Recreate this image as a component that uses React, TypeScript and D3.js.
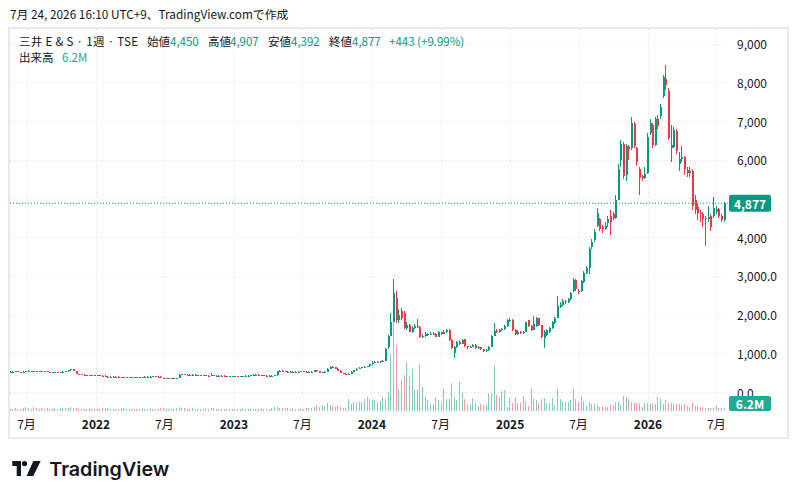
import React from "react";
import * as d3 from "d3";

// weekly bars, 2021-05-17 .. 2026-07-20 (one row per year)
const opens = [
  515,520,525,530,520,505,520,530,545,540,530,525,535,540,530,515,505,510,510,505,515,520,530,560,590,540,470,455,450,440,435,440,430,
  425,430,425,420,400,380,395,400,395,390,385,370,380,385,380,385,380,385,390,395,400,400,405,400,395,365,355,355,355,350,355,360,450,455,450,445,440,445,435,440,440,430,425,420,430,425,425,420,420,415,410,410,
  410,410,400,410,412,415,420,440,445,445,440,430,415,410,415,420,430,530,545,540,520,525,520,525,520,525,530,525,520,525,520,560,540,500,505,520,600,655,640,600,545,490,470,465,470,520,560,600,620,640,650,660,
  720,760,780,770,790,810,1150,1450,1820,2420,1860,2100,2050,1650,1730,1560,1650,1700,1680,1420,1450,1500,1480,1510,1490,1430,1540,1500,1560,1600,1340,1000,1150,1300,1250,1360,1180,1150,1170,1210,1140,1150,1100,1060,1080,1160,1450,1580,1550,1600,1620,1700,1850,
  1860,1600,1500,1560,1520,1550,1850,1700,1600,1700,1900,1720,1400,1470,1550,1650,1770,1920,2200,2260,2350,2330,2400,2600,2900,2620,2600,2840,3080,3200,3740,3920,4280,4470,4250,4200,4360,4550,4600,4500,4970,6000,6400,5600,6320,6300,6930,6300,5770,5570,5530,5660,
  6700,6900,6370,7060,7120,7650,8080,7780,6300,6330,6740,5890,6020,6060,5740,5660,5700,4960,4790,4620,4600,4500,4480,4550,4550,4650,4730,4550,4450,
];
const highs = [
  530,535,545,535,525,530,540,560,555,545,540,545,555,545,535,520,520,520,515,525,530,540,570,605,595,545,475,465,460,450,450,445,440,
  442,440,435,430,410,405,410,410,405,400,395,390,395,395,395,395,395,400,405,410,412,415,415,410,405,370,365,365,365,365,370,465,468,465,460,455,455,455,450,452,450,440,435,490,440,437,435,430,430,425,420,420,
  422,422,422,424,427,432,452,457,457,457,452,442,427,427,432,442,545,560,557,552,537,537,537,537,537,542,542,537,537,537,575,572,552,517,532,615,670,665,652,612,557,502,482,482,532,575,615,635,655,665,675,735,
  790,800,795,810,830,1130,1480,2050,2912,2600,2150,2170,2080,1800,1760,1700,1750,1890,1700,1500,1540,1530,1560,1540,1520,1570,1560,1600,1640,1620,1360,1180,1320,1340,1380,1380,1200,1200,1240,1230,1180,1170,1120,1110,1190,1480,1775,1620,1640,1660,1740,1880,1900,
  1880,1620,1590,1580,1580,1820,1860,1720,1960,1930,1920,1740,1600,1630,1680,1830,1950,2480,2320,2400,2380,2440,2580,2950,2920,2660,2900,3120,3260,3750,3950,4200,4750,4500,4320,4380,4550,4700,4650,5100,5900,6500,6450,6400,6380,7110,6980,6320,5800,5600,5800,6700,
  7050,6950,7100,7150,7450,8180,8450,7850,6900,6850,6800,6200,6350,6100,5800,5800,5750,5100,4850,4700,4650,4550,4800,4600,5050,4800,4750,4600,4907,
];
const lows = [
  505,510,515,510,495,500,515,525,530,520,515,520,530,520,505,495,500,500,495,500,510,515,525,555,530,460,445,440,435,425,430,420,415,
  413,413,408,388,368,370,385,385,380,375,358,360,370,370,370,370,370,375,380,385,390,390,390,385,355,345,345,345,340,340,345,355,440,440,435,430,430,425,425,430,420,415,410,410,415,415,410,410,405,400,400,400,
  398,388,388,398,400,403,408,428,433,428,418,403,398,398,403,408,418,518,528,508,508,508,508,508,508,513,513,508,508,508,508,528,488,488,493,508,588,628,588,533,478,458,453,453,458,508,548,588,608,628,638,648,
  710,750,755,760,780,800,1120,1440,1800,1780,1780,1850,1620,1600,1540,1530,1620,1650,1390,1400,1430,1450,1460,1460,1410,1420,1470,1490,1530,1320,1120,870,1130,1220,1230,1160,1120,1130,1150,1120,1120,1080,1040,1040,1060,1150,1440,1520,1530,1580,1600,1690,1820,
  1580,1480,1480,1500,1500,1540,1680,1580,1590,1690,1700,1400,1140,1450,1530,1640,1750,1900,2170,2220,2280,2300,2380,2580,2620,2540,2580,2820,3060,3060,3700,3880,4250,4150,4100,4180,4250,4050,4450,4480,4950,5800,5500,5450,6000,6250,6300,5850,5090,5450,5500,5620,
  6650,6300,6350,6800,7050,7600,7800,6500,5950,6300,6150,5700,5950,5600,5550,5550,4700,4600,4450,4400,4250,3780,4400,4150,4500,4600,4500,4380,4392,
];
const closes = [
  520,525,530,520,505,520,530,545,540,530,525,535,540,530,515,505,510,510,505,515,520,530,560,590,540,470,455,450,440,435,440,430,425,
  430,425,420,400,380,395,400,395,390,385,370,380,385,380,385,380,385,390,395,400,400,405,400,395,365,355,355,355,350,355,360,450,455,450,445,440,445,435,440,440,430,425,420,430,425,425,420,420,415,410,410,410,
  410,400,410,412,415,420,440,445,445,440,430,415,410,415,420,430,530,545,540,520,525,520,525,520,525,530,525,520,525,520,560,540,500,505,520,600,655,640,600,545,490,470,465,470,520,560,600,620,640,650,660,720,
  760,780,770,790,810,1100,1450,1800,2550,1860,2000,1900,1650,1720,1560,1650,1700,1680,1420,1450,1500,1480,1510,1490,1430,1540,1500,1560,1600,1340,1140,1150,1300,1250,1350,1180,1150,1170,1210,1140,1150,1100,1060,1080,1160,1450,1580,1550,1600,1620,1700,1850,1860,
  1600,1500,1560,1520,1550,1800,1700,1600,1750,1900,1720,1430,1560,1600,1650,1800,1920,2220,2260,2350,2320,2400,2550,2900,2650,2580,2860,3080,3200,3700,3880,4140,4620,4210,4200,4300,4480,4380,4500,4950,5750,6400,5580,6360,6280,6950,6350,5940,5530,5530,5620,6600,
  6960,6370,7060,6880,7370,8140,7930,6570,6380,6780,6230,6020,6080,5770,5660,5700,4800,4700,4620,4600,4470,4480,4520,4250,4760,4730,4550,4434,4877,
];
// millions of shares
const volumes = [
  4.5,4,5,4,4.5,5,7,5,4.5,7,5,4.5,5,4,5,4.5,4,5,4.5,5,6,5.5,6,7.5,6.5,5,4.5,4,4.5,4,5,4.5,4,
  4,4.5,5,5.5,6,4.5,4,4.5,4,5,5.5,4,4.5,4,4,4.5,4,5,4,4.5,5,4,4.5,4,5.5,5,4,4.5,4,4,5,7.5,6,5,4.5,4,5,4,4.5,4,4,5,4.5,6,5,4.5,4,4,4.5,4,3.5,4,
  4,4.5,4,5,4.5,4,5,4.5,4,4,5,4.5,4,4,5,7.5,8,6,5,6,5,4.5,5,4,4.5,5,4.5,5,6,5.5,8.5,11,7.5,11,9.5,15,11.5,9.5,7.5,9.5,7.5,6,6.5,23,13,17,17,19,17,23,26,23,
  21,19,17,19,27,23,36,108,169,125,42,59,68,93,67,80,40,40,89,46,27,21,13,13,27,21,15,42,23,23,53,27,21,55,34,23,13,13,24,15,9.5,13,11,11,34,34,87,30,26,38,40,7.6,24,
  15,26,15,15,28,19,9.5,43,23,21,15,22,24,15,15,24,11,42,23,19,18,18,21,42,23,18,28,19,9.5,18,13,13,11,8,8,8,8,11,11,16.5,18,11,28,27,22,18,16,16,16,7,16,15,
  13,16,13,27,23,13,20,16,15,15,13,13,11,13,9.5,7,15,9.5,9.5,8,8,6.3,6.3,6.3,6.3,9.5,6.3,6.3,6.2,
];

const priceTicks = [0, 1000, 2000, 3000, 4000, 5000, 6000, 7000, 8000, 9000];
const priceTickLabels = ["0.0", "1,000.0", "2,000.0", "3,000.0", "4,000", "5,000", "6,000", "7,000", "8,000", "9,000"];
const timeTicks = ["2021-07-01", "2022-01-01", "2022-07-01", "2023-01-01", "2023-07-01", "2024-01-01", "2024-07-01", "2025-01-01", "2025-07-01", "2026-01-01", "2026-07-01"];
const timeTickLabels = ["7月", "2022", "7月", "2023", "7月", "2024", "7月", "2025", "7月", "2026", "7月"];

const UP = "#089981";
const DOWN = "#f23645";
const UP_VOL = "#84ccc0";
const DOWN_VOL = "#f89aa2";
const TXT = "#131722";
const FONT = "'Noto Sans CJK JP', 'Noto Sans', sans-serif";

const weeks = d3.utcMonday.range(new Date(Date.UTC(2021, 4, 17)), new Date(Date.UTC(2026, 6, 21)));

export default function App() {
  const W = 798;
  const H = 499;
  const left = 10;
  const right = 728;
  const paneTop = 28;
  const paneBottom = 411;

  const x = d3.scaleUtc().domain([weeks[0], weeks[weeks.length - 1]]).range([9.5, 723.6]);
  const y = d3.scaleLinear().domain([0, 9000]).range([392, 43.6]);
  const yv = d3.scaleLinear().domain([0, 170]).range([paneBottom, 321.5]);
  const fmt = d3.format(",");

  const bars = weeks.map((d, i) => ({
    date: d,
    o: opens[i],
    h: highs[i],
    l: lows[i],
    c: closes[i],
    v: volumes[i],
  }));
  const last = bars[bars.length - 1];
  const prev = bars[bars.length - 2];
  const lastY = y(last.c);
  const chg = last.c - prev.c;

  return (
    <div style={{ position: "absolute", left: 0, top: 0 }}>
      <svg width={W} height={H} style={{ display: "block", background: "#fff" }}>
        <rect x={0} y={0} width={W} height={H} fill="#fff" />
        <text x={10} y={19} fontFamily={FONT} fontSize={11.8} fill={TXT}>
          7月 24, 2026 16:10 UTC+9、TradingView.comで作成
        </text>
        <rect x={9} y={28} width={779} height={410} fill="#fff" stroke="#e9e9e9" strokeWidth={2} />

        {/* grid */}
        <g stroke="#d6d8de" strokeWidth={1} strokeDasharray="1 3">
          {priceTicks.map((t) => (
            <line key={"h" + t} x1={left} x2={right} y1={Math.round(y(t)) + 0.5} y2={Math.round(y(t)) + 0.5} />
          ))}
          {timeTicks.map((t) => {
            const xx = Math.round(x(new Date(t + "T00:00:00Z"))) + 0.5;
            return <line key={"v" + t} x1={xx} x2={xx} y1={paneTop + 1} y2={paneBottom} />;
          })}
        </g>

        {/* volume */}
        <g shapeRendering="crispEdges">
          {bars.map((b, i) => {
            const cx = Math.round(x(b.date));
            const top = yv(b.v);
            return (
              <rect
                key={"v" + i}
                x={cx}
                y={top}
                width={1}
                height={paneBottom - top}
                fill={b.c >= b.o ? UP_VOL : DOWN_VOL}
              />
            );
          })}
        </g>

        {/* candles */}
        <g shapeRendering="crispEdges">
          {bars.map((b, i) => {
            const cx = Math.round(x(b.date));
            const col = b.c >= b.o ? UP : DOWN;
            const y0 = y(Math.max(b.o, b.c));
            const y1 = y(Math.min(b.o, b.c));
            return (
              <g key={"c" + i}>
                <rect x={cx} y={y(b.h)} width={1} height={Math.max(1, y(b.l) - y(b.h))} fill={col} />
                <rect x={cx - 0.5} y={y0} width={2} height={Math.max(1, y1 - y0)} fill={col} />
              </g>
            );
          })}
        </g>

        {/* last price line */}
        <line x1={left} x2={right} y1={lastY} y2={lastY} stroke={UP} strokeWidth={1} strokeDasharray="1 2" />

        {/* price axis */}
        <g fontFamily={FONT} fontSize={12} fill={TXT}>
          {priceTicks.map((t, i) => (
            <text key={"pt" + t} x={737} y={y(t)} dominantBaseline="central">
              {priceTickLabels[i]}
            </text>
          ))}
        </g>
        <rect x={729} y={lastY - 8.5} width={42} height={17} rx={2} fill={UP} />
        <text x={750} y={lastY} textAnchor="middle" dominantBaseline="central" fontFamily={FONT} fontSize={12} fontWeight={600} fill="#fff">
          {fmt(last.c)}
        </text>
        <rect x={729} y={396} width={42} height={15} rx={2} fill="#22ab94" />
        <text x={750} y={403.5} textAnchor="middle" dominantBaseline="central" fontFamily={FONT} fontSize={12} fontWeight={600} fill="#fff">
          {last.v}M
        </text>

        {/* time axis */}
        <g fontFamily={FONT} fontSize={12} fill={TXT} textAnchor="middle">
          {timeTicks.map((t, i) => (
            <text
              key={"tt" + t}
              x={x(new Date(t + "T00:00:00Z"))}
              y={429}
              fontWeight={timeTickLabels[i].endsWith("月") ? 400 : 700}
            >
              {timeTickLabels[i]}
            </text>
          ))}
        </g>

        {/* legend */}
        <g fontFamily={FONT} fontSize={11.5}>
          <text x={19} y={46} fill={TXT} textLength={119} lengthAdjust="spacing">三井 E &amp; S · 1週 · TSE</text>
          <text x={147} y={46} fill={TXT}>始値</text>
          <text x={170} y={46} fill={UP}>{fmt(last.o)}</text>
          <text x={208} y={46} fill={TXT}>高値</text>
          <text x={230} y={46} fill={UP}>{fmt(last.h)}</text>
          <text x={268} y={46} fill={TXT}>安値</text>
          <text x={291} y={46} fill={UP}>{fmt(last.l)}</text>
          <text x={329} y={46} fill={TXT}>終値</text>
          <text x={352} y={46} fill={UP}>{fmt(last.c)}</text>
          <text x={389} y={46} fill={UP}>{`+${chg} (+${((chg / prev.c) * 100).toFixed(2)}%)`}</text>
          <text x={19} y={62} fill={TXT}>出来高</text>
          <text x={62} y={62} fill="#22ab94">{last.v}M</text>
        </g>

        {/* logo */}
        <g fill={TXT}>
          <path d="M12.3,461 H21 V476 H16.7 V466 H12.3 Z" />
          <circle cx={24.5} cy={463.6} r={2.6} />
          <path d="M33.3,461 H40.7 L33.3,476 H26.7 Z" />
          <text x={49.3} y={476} fontFamily="Inter, 'Noto Sans', sans-serif" fontSize={19} fontWeight={600} textLength={120} lengthAdjust="spacingAndGlyphs">
            TradingView
          </text>
        </g>
      </svg>
    </div>
  );
}
